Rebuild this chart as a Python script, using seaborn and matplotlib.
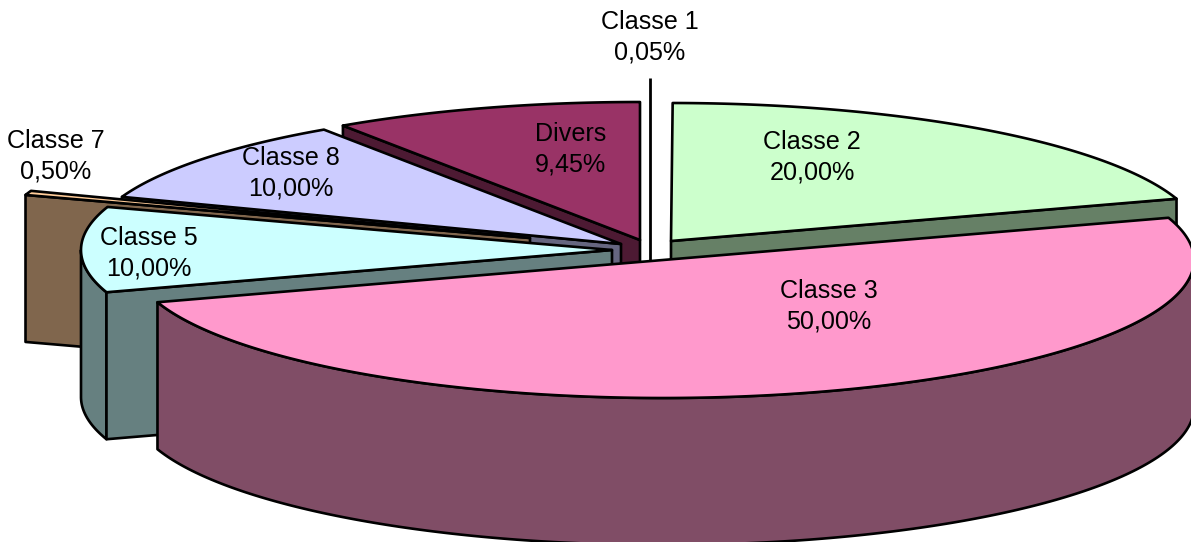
import numpy as np
import matplotlib
matplotlib.use("Agg")
import matplotlib.pyplot as plt
from matplotlib.patches import Polygon
import seaborn as sns

# data
categories = ["Classe 1", "Classe 2", "Classe 3", "Classe 5", "Classe 7", "Classe 8", "Divers"]
values = [0.05, 20.0, 50.0, 10.0, 0.5, 10.0, 9.45]

# style / layout
top_colors = ["#FFFFFF", "#CCFFCC", "#FF99CC", "#CCFFFF", "#FFCC99", "#CCCCFF", "#993366"]
centers = [(650, 216), (671, 241), (663, 260), (612, 250), (530, 238), (621, 244), (640, 240)]
label_pos = [(650, 37), (812, 157), (829, 306), (149, 253), (56, 156), (291, 173), (571, 149)]
draw_order = [0, 6, 5, 4, 1, 3, 2]
RX, RY, DEPTH = 531, 138, 147
LW = 1.9

sns.set_theme(style="white")
plt.rcParams["font.family"] = ["Liberation Sans", "DejaVu Sans"]

fig = plt.figure(figsize=(11.91, 5.42), dpi=100)
ax = fig.add_axes([0, 0, 1, 1])
ax.set_xlim(0, 1191)
ax.set_ylim(542, 0)
ax.axis("off")

shares = np.array(values) / sum(values) * 360
ends = np.cumsum(shares)
starts = ends - shares


def rim(c, angles):
    t = np.radians(angles)
    return np.column_stack([c[0] + RX * np.sin(t), c[1] - RY * np.cos(t)])


def face(pts, color, z):
    ax.add_patch(Polygon(pts, closed=True, facecolor=color, edgecolor="black",
                         linewidth=LW, joinstyle="round", zorder=z))


for rank, i in enumerate(draw_order):
    c, a1, a2 = centers[i], starts[i], ends[i]
    top = top_colors[i]
    side = tuple(0.5 * v for v in matplotlib.colors.to_rgb(top))
    z = 1 + rank
    down = np.array([0, DEPTH])
    # a sliver too narrow to show a fill reads as a single rule
    if shares[i] < 0.3:
        p = rim(c, [(a1 + a2) / 2])[0]
        ax.plot([c[0], c[0]], [p[1], c[1] + DEPTH], color="black", linewidth=2.0,
                solid_capstyle="butt", zorder=z)
        continue
    # outer wall: the part of the rim that faces the viewer
    lo, hi = max(a1, 90), min(a2, 270)
    if hi > lo:
        arc = rim(c, np.linspace(lo, hi, 200))
        face(np.vstack([arc, (arc + down)[::-1]]), side, z)
    # cut faces
    for a, visible in ((a1, np.sin(np.radians(a1)) < 0), (a2, np.sin(np.radians(a2)) > 0)):
        if visible:
            p = rim(c, [a])[0]
            cc = np.array(c, float)
            face(np.array([cc, p, p + down, cc + down]), side, z)
    # top
    arc = rim(c, np.linspace(a1, a2, 300))
    face(np.vstack([[c], arc]), top, z)

for name, v, (x, y) in zip(categories, values, label_pos):
    text = f"{name}\n{v:.2f}%".replace(".", ",")
    ax.text(x, y, text, ha="center", va="center", fontsize=18.1, color="black",
            linespacing=1.36, zorder=50)

fig.savefig("out.png", dpi=100)
